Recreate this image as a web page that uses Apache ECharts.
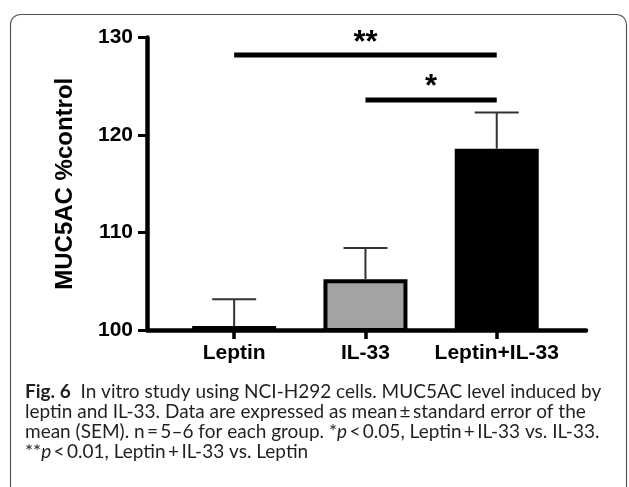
<!DOCTYPE html>
<html>
<head>
<meta charset="utf-8">
<script src="https://cdn.jsdelivr.net/npm/echarts@6/dist/echarts.min.js"></script>
<style>
html,body{margin:0;padding:0;background:#fff;}
#chart{width:629px;height:487px;}
</style>
</head>
<body>
<div id="chart"></div>
<script>
// ---- data ----
var categories = ['Leptin', 'IL-33', 'Leptin+IL-33'];
var means = [100.4, 105.2, 118.6];
var sems = [2.75, 3.2, 3.7];
var yTicks = [100, 110, 120, 130];
// significance brackets: from category index, to category index, level, label
var sigFrom = [0, 1];
var sigTo = [2, 2];
var sigLevel = [128.2, 123.6];
var sigLabel = ['**', '*'];
var captionLines = [
  '{b|Fig. 6}  In vitro study using NCI-H292 cells. MUC5AC level induced by',
  'leptin and IL-33. Data are expressed as mean\u2009\u00b1\u2009standard error of the',
  'mean (SEM). n\u2009=\u20095\u20136 for each group. *{i|p}\u2009<\u20090.05, Leptin\u2009+\u2009IL-33 vs. IL-33.',
  '**{i|p}\u2009<\u20090.01, Leptin\u2009+\u2009IL-33 vs. Leptin'
];

// ---- styles ----
var barColors = ['#000000', '#a3a3a3', '#000000'];
var FONT = 'Liberation Sans, Arial, sans-serif';
var CAP = 19;

var barData = categories.map(function (c, i) {
  return { value: [i, means[i]], itemStyle: { color: barColors[i] } };
});
var errData = categories.map(function (c, i) {
  return [i, means[i], means[i] + sems[i]];
});
var sigData = sigFrom.map(function (f, i) {
  return [f, sigTo[i], sigLevel[i]];
});

var chart = echarts.init(document.getElementById('chart'), null, { renderer: 'canvas' });
chart.setOption({
  animation: false,
  backgroundColor: '#fff',
  grid: { left: 147, right: 43, top: 37.5, bottom: 157, containLabel: false },
  xAxis: {
    type: 'value',
    min: -0.664,
    max: 2.68,
    splitLine: { show: false },
    axisLine: { show: true, onZero: false, lineStyle: { color: '#000', width: 4.5 } },
    axisTick: { show: true, customValues: [0, 1, 2], length: 9, lineStyle: { color: '#000', width: 3.5 } },
    axisLabel: {
      customValues: [0, 1, 2],
      margin: 13,
      formatter: function (v) { return categories[Math.round(v)]; },
      color: '#000', fontFamily: FONT, fontWeight: 'bold', fontSize: 21
    }
  },
  yAxis: {
    type: 'value',
    min: yTicks[0],
    max: yTicks[yTicks.length - 1],
    interval: 10,
    name: 'MUC5AC %control',
    nameLocation: 'middle',
    nameGap: 70,
    nameTextStyle: { color: '#000', fontFamily: FONT, fontWeight: 'bold', fontSize: 24 },
    splitLine: { show: false },
    axisLine: { show: true, onZero: false, lineStyle: { color: '#000', width: 4.5 } },
    axisTick: { show: true, length: 9, lineStyle: { color: '#000', width: 3 } },
    axisLabel: { margin: 14, color: '#000', fontFamily: FONT, fontWeight: 'bold', fontSize: 21 }
  },
  series: [
    {
      type: 'bar',
      data: barData,
      barWidth: 84,
      itemStyle: { borderColor: '#000', borderWidth: 4 },
      z: 1
    },
    {
      type: 'custom',
      data: errData,
      z: 3,
      renderItem: function (params, api) {
        var x = api.value(0);
        var p0 = api.coord([x, api.value(1)]);
        var p1 = api.coord([x, api.value(2)]);
        var hw = 22;
        var st = { stroke: '#333', lineWidth: 2 };
        return {
          type: 'group',
          children: [
            { type: 'line', shape: { x1: p0[0], y1: p0[1], x2: p1[0], y2: p1[1] }, style: st },
            { type: 'line', shape: { x1: p1[0] - hw, y1: p1[1], x2: p1[0] + hw, y2: p1[1] }, style: st }
          ]
        };
      }
    },
    {
      type: 'custom',
      data: sigData,
      z: 3,
      clip: false,
      renderItem: function (params, api) {
        var a = api.coord([api.value(0), api.value(2)]);
        var b = api.coord([api.value(1), api.value(2)]);
        var label = sigLabel[params.dataIndex];
        return {
          type: 'group',
          children: [
            { type: 'line', shape: { x1: a[0], y1: a[1], x2: b[0], y2: b[1] }, style: { stroke: '#000', lineWidth: 5 } },
            { type: 'text', x: (a[0] + b[0]) / 2, y: a[1] - 12, style: { text: label, fill: '#000', font: 'bold 31px ' + FONT, align: 'center', verticalAlign: 'middle' } }
          ]
        };
      }
    }
  ],
  graphic: [
    {
      type: 'rect',
      shape: { x: 10.5, y: 14.5, width: 616, height: 500, r: 10 },
      style: { fill: 'none', stroke: '#555', lineWidth: 1.2 },
      silent: true
    },
    {
      type: 'text',
      left: 25,
      top: 382,
      style: {
        text: captionLines.join('\n'),
        fill: '#231f20',
        font: CAP + 'px Lato, sans-serif',
        lineHeight: 20,
        rich: {
          b: { fontWeight: 'bold', fontFamily: 'Lato', fontSize: CAP, lineHeight: 20, fill: '#231f20' },
          i: { fontStyle: 'italic', fontFamily: 'Lato', fontSize: CAP, lineHeight: 20, fill: '#231f20' }
        }
      }
    }
  ]
});
</script>
</body>
</html>
